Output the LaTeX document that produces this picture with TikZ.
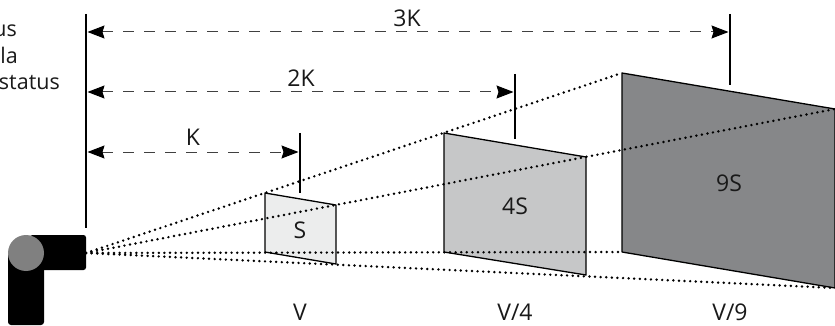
\documentclass[tikz,border=0pt]{standalone}
\usepackage{fontspec}
\setmainfont{Open Sans}
\usetikzlibrary{arrows.meta}
\definecolor{panelA}{HTML}{ECEDED}
\definecolor{panelB}{HTML}{C6C7C8}
\definecolor{panelC}{HTML}{868789}
\tikzset{
  lbl/.style={font=\fontsize{23}{26}\selectfont, text=black!90, inner sep=0pt},
  leg/.style={font=\fontsize{21.5}{24}\selectfont, text=black!90, inner sep=0pt, anchor=base east},
  rul/.style={line width=2.8pt, black},
  dim/.style={line width=1pt, black!75, dash pattern=on 11pt off 10pt, {Stealth[length=17pt,width=13pt,inset=2pt,black]}-{Stealth[length=17pt,width=13pt,inset=2pt,black]}},
  ray/.style={line width=2.7pt, black, line cap=round, dash pattern=on 0pt off 5.6pt},
  panel/.style={draw=black, line width=1.3pt, line join=round},
}
\begin{document}
\begin{tikzpicture}[x=1pt,y=-1pt]
\useasboundingbox (0,0) rectangle (835,326);
% apex and panel corners
\coordinate (apex) at (86,253);
\coordinate (a1) at (265,193); \coordinate (a2) at (336,205); \coordinate (a3) at (336,264); \coordinate (a4) at (265,252);
\coordinate (b1) at (444,133); \coordinate (b2) at (586,157); \coordinate (b3) at (586,275); \coordinate (b4) at (444,252);
\coordinate (c1) at (622,73);  \coordinate (c2) at (835,109); \coordinate (c3) at (835,288); \coordinate (c4) at (622,252);
% panels
\draw[panel, fill=panelA] (a1)--(a2)--(a3)--(a4)--cycle;
\draw[panel, fill=panelB] (b1)--(b2)--(b3)--(b4)--cycle;
\draw[panel, fill=panelC] (c1)--(c2)--(c3)--(c4)--cycle;
% rays
\draw[ray] (apex)--(c1);
\draw[ray] (apex)--(c2);
\draw[ray] (apex)--(c4);
\draw[ray] (apex)--(c3);
% rulers
\coordinate (r0t) at (86,14); \coordinate (r0b) at (86,228);
\coordinate (r1t) at (300,133); \coordinate (r1b) at (300,193);
\coordinate (r2t) at (515,74); \coordinate (r2b) at (515,139);
\coordinate (r3t) at (730,14); \coordinate (r3b) at (730,85);
\draw[rul] (r0t)--(r0b);
\draw[rul] (r1t)--(r1b);
\draw[rul] (r2t)--(r2b);
\draw[rul] (r3t)--(r3b);
% dimensions
\coordinate (d1l) at (87.5,152); \coordinate (d1r) at (298.5,152);
\coordinate (d2l) at (87.5,92); \coordinate (d2r) at (513.5,92);
\coordinate (d3l) at (87.5,32); \coordinate (d3r) at (728.5,32);
\draw[dim] (d1l)--(d1r);
\draw[dim] (d2l)--(d2r);
\draw[dim] (d3l)--(d3r);
\node[lbl] (k1) at (193,137) {K};
\node[lbl] (k2) at (301,78) {2K};
\node[lbl] (k3) at (407,18) {3K};
% panel labels
\node[lbl] (s1) at (300,230) {S};
\node[lbl] (s2) at (515,206) {4S};
\node[lbl] (s3) at (729,183) {9S};
\node[lbl] (v1) at (300,312) {V};
\node[lbl] (v2) at (515,312) {V/4};
\node[lbl] (v3) at (730,312) {V/9};
% legend
\node[leg] (t1) at (17,37) {us};
\node[leg] (t2) at (18,64) {la};
\node[leg] (t3) at (60,90) {status};
% camera
\fill[black, rounded corners=2.5pt] (30,235) rectangle (86,270);
\fill[black, rounded corners=3pt] (8,252) rectangle (44,325);
\fill[black!50] (26,253) circle (18);
\end{tikzpicture}
\end{document}
